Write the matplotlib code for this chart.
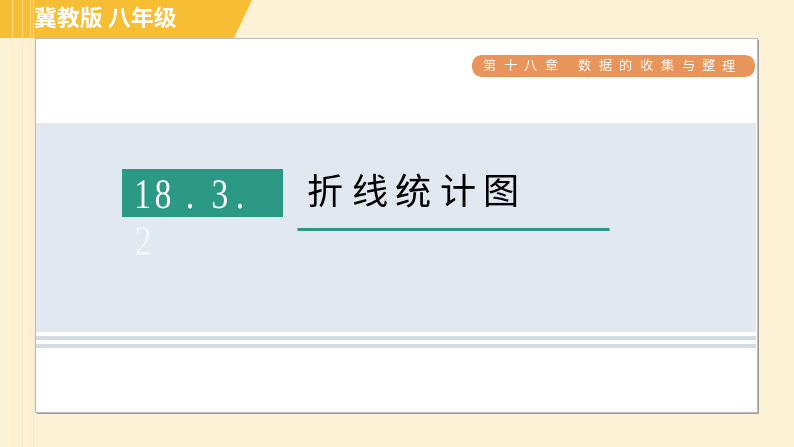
import matplotlib
matplotlib.use("Agg")
import matplotlib.pyplot as plt
from matplotlib.patches import Rectangle, Polygon, FancyBboxPatch, PathPatch
from matplotlib.textpath import TextPath
from matplotlib.font_manager import FontProperties
from matplotlib.transforms import Affine2D

plt.rcParams['font.family'] = ['Noto Sans CJK SC', 'DejaVu Sans']

W, H = 794, 447

header_text = "冀教版 八年级"
chapter_chars = ["第", "十", "八", "章", "数", "据", "的", "收", "集", "与", "整", "理"]
section_chars = ["1", "8", ".", "3", "."]
section_x = [143, 163, 190, 220, 240]
section_tail = "2"
title_chars = ["折", "线", "统", "计", "图"]

cream = "#fdf2d6"
orange = "#f8be33"
stripe = "#fbd477"
band = "#e1e8f0"
teal = "#2c9985"
badge = "#e8945a"

serif = FontProperties(family="Liberation Serif")


def put_glyph(ax, s, x, base, size=42, sx=0.8, color="white"):
    # narrow serif glyph centred on x, sitting on baseline `base`
    tp = TextPath((0, 0), s, size=size, prop=serif)
    bb = tp.get_extents()
    tr = Affine2D().translate(-(bb.x0 + bb.x1) / 2, 0).scale(sx, -1).translate(x, base)
    ax.add_patch(PathPatch(tr.transform_path(tp), facecolor=color, edgecolor="none"))


fig = plt.figure(figsize=(W / 100, H / 100), dpi=100)
ax = fig.add_axes([0, 0, 1, 1])
ax.set_xlim(0, W)
ax.set_ylim(H, 0)
ax.axis("off")
fig.patch.set_facecolor(cream)

# header band with slanted right end
ax.add_patch(Polygon([(0, 0), (252, 0), (234, 38), (0, 38)], closed=True,
                     facecolor=orange, edgecolor="none"))
for x in [12, 22, 30, 33]:
    ax.plot([x, x], [0, 38], color=stripe, lw=1)
    ax.plot([x, x], [38, 447], color="#fcebc4", lw=0.8)
ax.text(34, 19, header_text, color="white", fontsize=16.5, fontweight="bold",
        ha="left", va="center")

# white card with shadow
ax.add_patch(Rectangle((37, 40), 722, 374, facecolor="#9a9a9a", edgecolor="none"))
ax.add_patch(Rectangle((35, 38), 722, 374, facecolor="white",
                       edgecolor="#b8bcc4", lw=0.8))

# grey band and thin stripes
ax.add_patch(Rectangle((36, 123), 720, 209, facecolor=band, edgecolor="none"))
ax.add_patch(Rectangle((36, 336), 720, 4, facecolor="#d3dae4", edgecolor="none"))
ax.add_patch(Rectangle((36, 344), 720, 4, facecolor="#d3dae4", edgecolor="none"))

# chapter badge
ax.add_patch(FancyBboxPatch((472, 55), 283, 22,
                            boxstyle="round,pad=0,rounding_size=11",
                            facecolor=badge, edgecolor="none"))
for i, ch in enumerate(chapter_chars):
    x = 489 + i * 20.6 + (13 if i >= 4 else 0)
    ax.text(x, 66.5, ch, color="white", fontsize=9.5, ha="center", va="center")

# section number box
ax.add_patch(Rectangle((122, 169), 161, 48, facecolor=teal, edgecolor="none"))
for ch, x in zip(section_chars, section_x):
    put_glyph(ax, ch, x, 208)
put_glyph(ax, section_tail, 143, 255, color="#f4f7fa")

# title
for i, ch in enumerate(title_chars):
    ax.text(325 + i * 44, 194, ch, color="black", fontsize=26,
            fontweight="light", ha="center", va="center")
ax.plot([297, 609], [228.5, 228.5], color=teal, lw=2.2, solid_capstyle="butt")

fig.savefig("out.png", dpi=100, facecolor=cream)
